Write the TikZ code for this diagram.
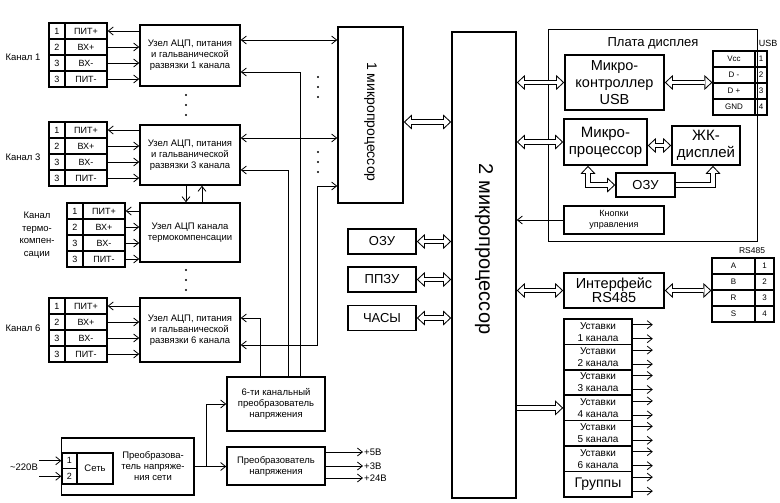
\documentclass[tikz,border=0pt]{standalone}
\usepackage{fontspec}
\setmainfont{Liberation Sans}
\usetikzlibrary{positioning}
\usetikzlibrary{arrows.meta}
\usetikzlibrary{fit}

\begin{document}
\begin{tikzpicture}[x=1pt,y=-1pt]
    \tikzset{
        adc/.style={rectangle, draw, line width=1.6pt, align=center, inner sep=0pt, font=\fontsize{9.5}{11}\selectfont},
        cpu/.style={rectangle, draw, line width=1.6pt, inner sep=0pt},
        unit/.style={rectangle, draw, line width=1.6pt, align=center, inner sep=0pt, font=\fontsize{14.5}{17}\selectfont},
        mem/.style={rectangle, draw, line width=1.6pt, inner sep=0pt, minimum width=68pt, minimum height=25pt, font=\fontsize{13}{13}\selectfont},
        setpoint/.style={rectangle, draw, line width=1.6pt, align=center, inner sep=0pt, minimum width=68pt, minimum height=25.4pt, font=\fontsize{10}{12}\selectfont},
        pinno/.style={rectangle, draw, line width=1.3pt, minimum width=16pt, minimum height=16pt, inner sep=0pt, font=\fontsize{9}{9}\selectfont},
        pinname/.style={pinno, minimum width=42pt},
        portcell/.style={rectangle, draw, line width=1.2pt, minimum height=16pt, inner sep=0pt, font=\fontsize{8}{8}\selectfont},
        caption/.style={align=center, inner sep=1pt, font=\fontsize{9.5}{12.5}\selectfont},
        flow/.style={draw, line width=0.8pt, -{Straight Barb[length=5pt,width=8pt]}},
        flow2/.style={draw, line width=0.8pt, {Straight Barb[length=5pt,width=8pt]}-{Straight Barb[length=5pt,width=8pt]}},
        BusTip/.tip={Triangle[length=8pt,width=15pt,line width=0pt]},
        BusCore/.tip={Triangle[length=5.5pt,width=10.4pt,line width=0pt]},
        bus/.style={draw, line width=5.6pt, -{BusTip}, postaction={draw=white, line width=3.6pt, shorten >=1.5pt, -{BusCore}}},
        bus2/.style={draw, line width=5.6pt, {BusTip}-{BusTip}, postaction={draw=white, line width=3.6pt, shorten >=1.5pt, shorten <=1.5pt, {BusCore}-{BusCore}}}
    }
    \useasboundingbox (0,0) rectangle (780,503);

    % channel 1
    \node[adc, minimum width=100pt, minimum height=61pt] (ch1) at (190,55.5) {Узел АЦП, питания\\и гальванической\\развязки 1 канала};
    \node[pinno] (k1n1) at (57,31) {1};
    \node[pinno] (k1n2) at (57,47) {2};
    \node[pinno] (k1n3) at (57,63) {3};
    \node[pinno] (k1n4) at (57,79) {3};
    \node[pinname] (k1p1) at (86,31) {ПИТ+};
    \node[pinname] (k1p2) at (86,47) {ВХ+};
    \node[pinname] (k1p3) at (86,63) {ВХ-};
    \node[pinname] (k1p4) at (86,79) {ПИТ-};
    \node[caption] (lab1) at (23,57) {Канал 1};

    % channel 3
    \node[adc, minimum width=100pt, minimum height=60pt] (ch3) at (190,155) {Узел АЦП, питания\\и гальванической\\развязки 3 канала};
    \node[pinno] (k3n1) at (57,130) {1};
    \node[pinno] (k3n2) at (57,146) {2};
    \node[pinno] (k3n3) at (57,162) {3};
    \node[pinno] (k3n4) at (57,178) {3};
    \node[pinname] (k3p1) at (86,130) {ПИТ+};
    \node[pinname] (k3p2) at (86,146) {ВХ+};
    \node[pinname] (k3p3) at (86,162) {ВХ-};
    \node[pinname] (k3p4) at (86,178) {ПИТ-};
    \node[caption] (lab3) at (23,157) {Канал 3};

    % thermocompensation channel
    \node[adc, minimum width=100pt, minimum height=59pt] (termo) at (190,232.5) {Узел АЦП канала\\термокомпенсации};
    \node[pinno] (ktn1) at (75,211) {1};
    \node[pinno] (ktn2) at (75,227) {2};
    \node[pinno] (ktn3) at (75,243) {3};
    \node[pinno] (ktn4) at (75,259) {3};
    \node[pinname] (ktp1) at (104,211) {ПИТ+};
    \node[pinname] (ktp2) at (104,227) {ВХ+};
    \node[pinname] (ktp3) at (104,243) {ВХ-};
    \node[pinname] (ktp4) at (104,259) {ПИТ-};
    \node[caption] (labt) at (37,235) {Канал\\термо-\\компен-\\сации};

    % channel 6
    \node[adc, minimum width=100pt, minimum height=64pt] (ch6) at (190,330) {Узел АЦП, питания\\и гальванической\\развязки 6 канала};
    \node[pinno] (k6n1) at (57,306) {1};
    \node[pinno] (k6n2) at (57,322) {2};
    \node[pinno] (k6n3) at (57,338) {3};
    \node[pinno] (k6n4) at (57,354) {3};
    \node[pinname] (k6p1) at (86,306) {ПИТ+};
    \node[pinname] (k6p2) at (86,322) {ВХ+};
    \node[pinname] (k6p3) at (86,338) {ВХ-};
    \node[pinname] (k6p4) at (86,354) {ПИТ-};
    \node[caption] (lab6) at (23,328) {Канал 6};

    % power supply
    \node[adc, minimum width=98pt, minimum height=54pt] (conv6) at (276,404) {6-ти канальный\\преобразователь\\напряжения};
    \node[adc, minimum width=98pt, minimum height=38pt] (pwr) at (276,466) {Преобразователь\\напряжения};
    \node[pinno, minimum width=15pt, minimum height=15.5pt] (netn1) at (69.5,460.75) {1};
    \node[pinno, minimum width=15pt, minimum height=15.5pt] (netn2) at (69.5,476.25) {2};
    \node[pinno, minimum width=36pt, minimum height=31pt, font=\fontsize{9.5}{9.5}\selectfont] (seti) at (95,468.5) {Сеть};
    \node[adc, draw=none, minimum width=80pt, minimum height=55pt] (nettext) at (153,466.5) {Преобразова-\\тель напряже-\\ния сети};
    \node[cpu, fit=(netn1) (netn2) (seti) (nettext)] (net) {};
    \node[caption] (mains) at (24,467) {\textasciitilde220В};
    \node[caption, anchor=west] (v5) at (363,452) {+5В};
    \node[caption, anchor=west] (v3) at (363,466) {+3В};
    \node[caption, anchor=west] (v24) at (363,478) {+24В};

    % processors and memory
    \node[cpu, minimum width=65pt, minimum height=176pt, label={[shift={(0,7)}, rotate=-90, font=\fontsize{14}{14}\selectfont]center:1 микропроцессор}] (mp1) at (370.5,115) {};
    \node[cpu, minimum width=64pt, minimum height=466pt, label={[shift={(0,-16)}, rotate=-90, font=\fontsize{20}{20}\selectfont]center:2 микропроцессор}] (mp2) at (484,265) {};
    \node[mem] (ozu) at (382,241.5) {ОЗУ};
    \node[mem] (ppzu) at (382,279.5) {ППЗУ};
    \node[mem] (clock) at (382,318) {ЧАСЫ};

    % display board
    \node[rectangle, draw, line width=0.8pt, minimum width=209pt, minimum height=212pt] (board) at (652.5,135) {};
    \node[caption, font=\fontsize{13}{13}\selectfont] (boardtitle) at (653,43) {Плата дисплея};
    \node[unit, minimum width=99pt, minimum height=55pt] (mcu) at (614.5,82.5) {Микро-\\контроллер\\USB};
    \node[unit, minimum width=83pt, minimum height=46pt, font=\fontsize{15}{17}\selectfont] (dmp) at (605.5,142) {Микро-\\процессор};
    \node[unit, minimum width=68pt, minimum height=39pt, font=\fontsize{15}{17}\selectfont] (lcd) at (706,145.5) {ЖК-\\дисплей};
    \node[mem, minimum width=59pt, minimum height=24pt] (dozu) at (645.5,185) {ОЗУ};
    \node[adc, minimum width=100pt, minimum height=28pt, font=\fontsize{9}{11}\selectfont] (knob) at (614,220) {Кнопки\\управления};

    % USB connector
    \node[portcell, minimum width=42pt] (ua1) at (734,59) {Vcc};
    \node[portcell, minimum width=42pt] (ua2) at (734,75) {D -};
    \node[portcell, minimum width=42pt] (ua3) at (734,91) {D +};
    \node[portcell, minimum width=42pt] (ua4) at (734,107) {GND};
    \node[portcell, minimum width=12pt] (un1) at (761,59) {1};
    \node[portcell, minimum width=12pt] (un2) at (761,75) {2};
    \node[portcell, minimum width=12pt] (un3) at (761,91) {3};
    \node[portcell, minimum width=12pt] (un4) at (761,107) {4};
    \node[caption, font=\fontsize{9}{9}\selectfont] (usblab) at (768,43) {USB};

    % RS485
    \node[unit, minimum width=100pt, minimum height=35pt, font=\fontsize{14.5}{14}\selectfont] (iface) at (614,290.5) {Интерфейс\\RS485};
    \node[portcell, minimum width=43pt] (ra1) at (733.5,266) {A};
    \node[portcell, minimum width=43pt] (ra2) at (733.5,282) {B};
    \node[portcell, minimum width=43pt] (ra3) at (733.5,298) {R};
    \node[portcell, minimum width=43pt] (ra4) at (733.5,314) {S};
    \node[portcell, minimum width=19pt] (rn1) at (764.5,266) {1};
    \node[portcell, minimum width=19pt] (rn2) at (764.5,282) {2};
    \node[portcell, minimum width=19pt] (rn3) at (764.5,298) {3};
    \node[portcell, minimum width=19pt] (rn4) at (764.5,314) {4};
    \node[caption, font=\fontsize{8.5}{8.5}\selectfont] (rslab) at (752,251) {RS485};

    % setpoints
    \node[setpoint] (ust1) at (598,331.7) {Уставки\\1 канала};
    \node[setpoint] (ust2) at (598,357.1) {Уставки\\2 канала};
    \node[setpoint] (ust3) at (598,382.5) {Уставки\\3 канала};
    \node[setpoint] (ust4) at (598,407.9) {Уставки\\4 канала};
    \node[setpoint] (ust5) at (598,433.3) {Уставки\\5 канала};
    \node[setpoint] (ust6) at (598,458.7) {Уставки\\6 канала};
    \node[setpoint, font=\fontsize{14}{14}\selectfont] (grp) at (598,484.1) {Группы};

    % terminals to channels
    \path[flow] (ch1.west |- k1p1) -- (k1p1.east);
    \path[flow] (k1p2.east) -- (k1p2.east -| ch1.west);
    \path[flow] (k1p3.east) -- (k1p3.east -| ch1.west);
    \path[flow] (k1p4.east) -- (k1p4.east -| ch1.west);
    \path[flow] (ch3.west |- k3p1) -- (k3p1.east);
    \path[flow] (k3p2.east) -- (k3p2.east -| ch3.west);
    \path[flow] (k3p3.east) -- (k3p3.east -| ch3.west);
    \path[flow] (k3p4.east) -- (k3p4.east -| ch3.west);
    \path[flow] (termo.west |- ktp1) -- (ktp1.east);
    \path[flow] (ktp2.east) -- (ktp2.east -| termo.west);
    \path[flow] (ktp3.east) -- (ktp3.east -| termo.west);
    \path[flow] (ktp4.east) -- (ktp4.east -| termo.west);
    \path[flow] (ch6.west |- k6p1) -- (k6p1.east);
    \path[flow] (k6p2.east) -- (k6p2.east -| ch6.west);
    \path[flow] (k6p3.east) -- (k6p3.east -| ch6.west);
    \path[flow] (k6p4.east) -- (k6p4.east -| ch6.west);
    \path[flow] ([xshift=-4pt]ch3.south) -- ([xshift=-4pt]termo.north);
    \path[flow] ([xshift=12pt]termo.north) -- ([xshift=12pt]ch3.south);

    % channels to processor 1
    \path[flow2] ([yshift=15.5pt]ch1.east) -- ([yshift=15.5pt]ch1.east -| mp1.west);
    \path[flow2] ([yshift=17pt]ch3.east) -- ([yshift=17pt]ch3.east -| mp1.west);
    \path[flow2] ([yshift=-15pt]ch6.east) -| ([xshift=-20pt,yshift=-71pt]mp1.west) -- ([yshift=-71pt]mp1.west);
    \path[flow] ([xshift=24pt]conv6.north) |- ([yshift=-16.5pt]ch1.east);
    \path[flow] ([xshift=12pt]conv6.north) |- ([yshift=-15pt]ch3.east);
    \path[flow] ([xshift=-16pt]conv6.north) |- ([yshift=12pt]ch6.east);

    % power
    \path[flow] (netn1.west -| mains.east) -- (netn1.west);
    \path[flow] (netn2.west -| mains.east) -- (netn2.west);
    \path[flow] (net.east) -- ++(12,0) |- (conv6.west);
    \path[flow] (net.east) -- (net.east -| pwr.west);
    \path[flow] ([yshift=14pt]pwr.east) -- (v5.west);
    \path[flow] (pwr.east) -- (v3.west);
    \path[flow] ([yshift=-12pt]pwr.east) -- (v24.west);

    % buses
    \path[bus2] ([yshift=-7pt]mp1.east) -- ([yshift=-7pt]mp1.east -| mp2.west);
    \path[bus2] (ozu.east) -- (ozu.east -| mp2.west);
    \path[bus2] (ppzu.east) -- (ppzu.east -| mp2.west);
    \path[bus2] (clock.east) -- (clock.east -| mp2.west);
    \path[bus2] (mp2.east |- mcu.west) -- (mcu.west);
    \path[bus2] (mcu.east) -- (mcu.east -| ua1.west);
    \path[bus2] (mp2.east |- dmp.west) -- (dmp.west);
    \path[bus2] (dmp.east |- lcd.west) -- (lcd.west);
    \path[bus2] ([xshift=-17.5pt]dmp.south) |- (dozu.west);
    \path[bus] (dozu.east) -| ([xshift=7pt]lcd.south);
    \path[flow] (knob.west) -- (knob.west -| mp2.east);
    \path[bus2] (mp2.east |- iface.west) -- (iface.west);
    \path[bus2] (iface.east) -- (iface.east -| ra1.west);
    \path[bus] (mp2.east |- ust4.west) -- (ust4.west);

    % setpoint outputs
    \path[flow] ([yshift=7pt]ust1.east) -- ++(20,0);
    \path[flow] ([yshift=-7pt]ust1.east) -- ++(20,0);
    \path[flow] ([yshift=7pt]ust2.east) -- ++(20,0);
    \path[flow] ([yshift=-7pt]ust2.east) -- ++(20,0);
    \path[flow] ([yshift=7pt]ust3.east) -- ++(20,0);
    \path[flow] ([yshift=-7pt]ust3.east) -- ++(20,0);
    \path[flow] ([yshift=7pt]ust4.east) -- ++(20,0);
    \path[flow] ([yshift=-7pt]ust4.east) -- ++(20,0);
    \path[flow] ([yshift=7pt]ust5.east) -- ++(20,0);
    \path[flow] ([yshift=-7pt]ust5.east) -- ++(20,0);
    \path[flow] ([yshift=7pt]ust6.east) -- ++(20,0);
    \path[flow] ([yshift=-7pt]ust6.east) -- ++(20,0);
    \path[flow] ([yshift=7pt]grp.east) -- ++(20,0);
    \path[flow] ([yshift=-7pt]grp.east) -- ++(20,0);

    % dots
    \fill (186,95) circle (1.1pt);
    \fill (186,105) circle (1.1pt);
    \fill (186,115) circle (1.1pt);
    \fill (186,270) circle (1.1pt);
    \fill (186,280) circle (1.1pt);
    \fill (186,290) circle (1.1pt);
    \fill (318,77) circle (1.1pt);
    \fill (318,87) circle (1.1pt);
    \fill (318,97) circle (1.1pt);
    \fill (318,152) circle (1.1pt);
    \fill (318,162) circle (1.1pt);
    \fill (318,172) circle (1.1pt);
\end{tikzpicture}
\end{document}
